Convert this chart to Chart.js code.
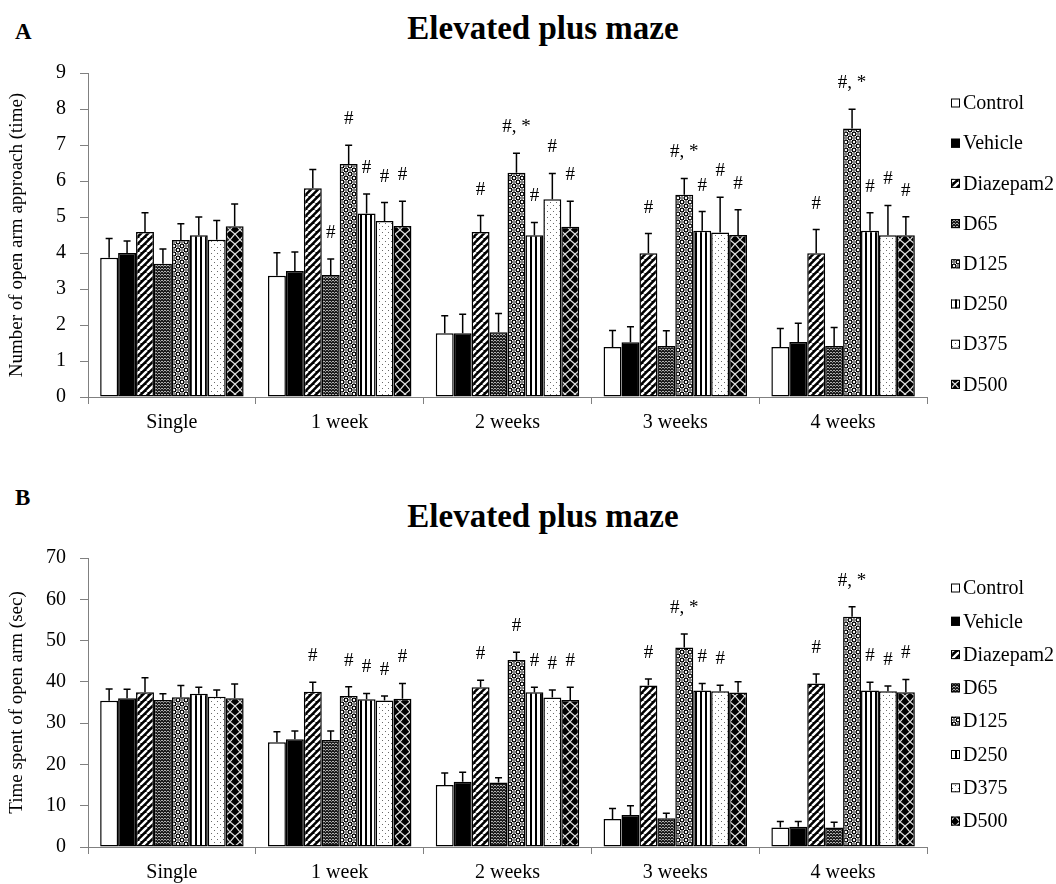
<!DOCTYPE html>
<html>
<head>
<meta charset="utf-8">
<script src="https://cdn.jsdelivr.net/npm/chart.js@4.4.0/dist/chart.umd.min.js"></script>
<style>
  body { margin: 0; background: #fff; width: 1056px; height: 884px; position: relative; overflow: hidden; font-family: 'Liberation Serif', 'Times New Roman', serif; }
  .panel { position: absolute; left: 0; width: 1056px; height: 442px; }
  .letter { position: absolute; left: 15px; font-weight: bold; font-size: 23px; line-height: 23px; }
  .title { position: absolute; left: 0; width: 1086px; text-align: center; font-weight: bold; font-size: 33px; line-height: 33px; }
</style>
</head>
<body>
<div class="letter" style="top:20px">A</div>
<div class="title" style="top:12px">Elevated plus maze</div>
<div class="letter" style="top:486px">B</div>
<div class="title" style="top:500px">Elevated plus maze</div>
<div class="panel" style="top:0"><canvas id="chart-approach" width="1056" height="442"></canvas></div>
<div class="panel" style="top:442px"><canvas id="chart-time" width="1056" height="442"></canvas></div>
<script>
const FONT = 'Liberation Serif';

const categories = ['Single', '1 week', '2 weeks', '3 weeks', '4 weeks'];
const groups = ['Control', 'Vehicle', 'Diazepam2', 'D65', 'D125', 'D250', 'D375', 'D500'];

// panel A: number of open arm approach (mean, SEM, marks)
const approachControl = [3.87, 3.37, 1.77, 1.39, 1.39];
const approachVehicle = [4.0, 3.5, 1.77, 1.52, 1.53];
const approachDiazepam = [4.58, 5.8, 4.58, 3.99, 3.99];
const approachD65 = [3.7, 3.39, 1.8, 1.42, 1.42];
const approachD125 = [4.36, 6.47, 6.23, 5.62, 7.46];
const approachD250 = [4.49, 5.1, 4.49, 4.62, 4.62];
const approachD375 = [4.37, 4.89, 5.49, 4.57, 4.49];
const approachD500 = [4.74, 4.75, 4.73, 4.5, 4.49];

const approachSemControl = [0.53, 0.64, 0.49, 0.46, 0.51];
const approachSemVehicle = [0.33, 0.53, 0.53, 0.43, 0.52];
const approachSemDiazepam = [0.54, 0.52, 0.46, 0.55, 0.66];
const approachSemD65 = [0.41, 0.44, 0.52, 0.42, 0.51];
const approachSemD125 = [0.45, 0.52, 0.54, 0.45, 0.53];
const approachSemD250 = [0.51, 0.54, 0.36, 0.53, 0.5];
const approachSemD375 = [0.53, 0.51, 0.72, 0.98, 0.83];
const approachSemD500 = [0.62, 0.69, 0.71, 0.7, 0.52];

const approachMarks = [
    ['', '', '', '', ''],
    ['', '', '', '', ''],
    ['', '', '#', '#', '#'],
    ['', '#', '', '', ''],
    ['', '#', '#, *', '#, *', '#, *'],
    ['', '#', '#', '#', '#'],
    ['', '#', '#', '#', '#'],
    ['', '#', '#', '#', '#']
];

// panel B: time spent of open arm (mean, SEM, marks)
const timeControl = [35.4, 25.4, 15.0, 6.8, 4.7];
const timeVehicle = [36.0, 26.1, 15.8, 7.75, 4.9];
const timeDiazepam = [37.5, 37.6, 38.7, 39.1, 39.6];
const timeD65 = [35.6, 25.9, 15.6, 6.95, 4.7];
const timeD125 = [36.3, 36.6, 45.3, 48.3, 55.8];
const timeD250 = [37.1, 35.8, 37.5, 37.9, 37.9];
const timeD375 = [36.4, 35.5, 36.2, 37.7, 37.7];
const timeD500 = [36.0, 35.9, 35.6, 37.4, 37.5];

const timeSemControl = [2.9, 2.5, 2.9, 2.5, 1.5];
const timeSemVehicle = [2.2, 2.0, 2.3, 2.25, 1.3];
const timeSemDiazepam = [3.5, 2.3, 1.7, 1.6, 2.3];
const timeSemD65 = [1.5, 2.2, 1.2, 1.25, 1.3];
const timeSemD125 = [2.8, 2.2, 1.9, 3.3, 2.4];
const timeSemD250 = [1.6, 1.4, 1.2, 1.7, 2.0];
const timeSemD375 = [1.6, 1.1, 1.8, 1.5, 1.3];
const timeSemD500 = [3.5, 3.7, 3.1, 2.6, 3.1];

const timeMarks = [
    ['', '', '', '', ''],
    ['', '', '', '', ''],
    ['', '#', '#', '#', '#'],
    ['', '', '', '', ''],
    ['', '#', '#', '#, *', '#, *'],
    ['', '#', '#', '#', '#'],
    ['', '#', '#', '#', '#'],
    ['', '#', '#', '', '#']
];

const approachTicks = [0, 1, 2, 3, 4, 5, 6, 7, 8, 9];
const timeTicks = [0, 10, 20, 30, 40, 50, 60, 70];

function makePattern(ctx, size, draw) {
    const tile = document.createElement('canvas');
    tile.width = size;
    tile.height = size;
    const g = tile.getContext('2d');
    draw(g, size);
    return ctx.createPattern(tile, 'repeat');
}

function groupFills(ctx) {
    return [
        '#ffffff',
        '#000000',
        makePattern(ctx, 7, (g, s) => {
            g.fillStyle = '#000';
            g.fillRect(0, 0, s, s);
            g.strokeStyle = '#fff';
            g.lineWidth = 2.4;
            g.beginPath();
            for (let k = -s; k <= s; k += s) {
                g.moveTo(k, s);
                g.lineTo(k + s, 0);
            }
            g.stroke();
        }),
        makePattern(ctx, 6, (g, s) => {
            g.fillStyle = '#1c1c1c';
            g.fillRect(0, 0, s, s);
            g.strokeStyle = '#b0b0b0';
            g.lineWidth = 1;
            g.beginPath();
            g.moveTo(0, 1); g.lineTo(1.5, 2.5); g.lineTo(3, 1); g.lineTo(4.5, 2.5); g.lineTo(6, 1);
            g.moveTo(0, 4); g.lineTo(1.5, 5.5); g.lineTo(3, 4); g.lineTo(4.5, 5.5); g.lineTo(6, 4);
            g.stroke();
        }),
        makePattern(ctx, 8, (g, s) => {
            g.fillStyle = '#fff';
            g.fillRect(0, 0, s, s);
            g.fillStyle = '#000';
            g.fillRect(0, 0, 4, 4);
            g.fillRect(4, 4, 4, 4);
            g.fillStyle = '#fff';
            g.beginPath(); g.arc(2, 2, 1.2, 0, Math.PI * 2); g.fill();
            g.beginPath(); g.arc(6, 6, 1.2, 0, Math.PI * 2); g.fill();
            g.strokeStyle = '#000';
            g.lineWidth = 0.8;
            g.beginPath(); g.arc(6, 2, 1.3, 0, Math.PI * 2); g.stroke();
            g.beginPath(); g.arc(2, 6, 1.3, 0, Math.PI * 2); g.stroke();
        }),
        makePattern(ctx, 5, (g, s) => {
            g.fillStyle = '#fff';
            g.fillRect(0, 0, s, s);
            g.fillStyle = '#000';
            g.fillRect(0, 0, 2, s);
        }),
        makePattern(ctx, 6, (g, s) => {
            g.fillStyle = '#fff';
            g.fillRect(0, 0, s, s);
            g.fillStyle = '#6a6a6a';
            g.fillRect(1, 1, 1, 1);
            g.fillRect(4, 4, 1, 1);
        }),
        makePattern(ctx, 10, (g, s) => {
            g.fillStyle = '#000';
            g.fillRect(0, 0, s, s);
            g.strokeStyle = '#e0e0e0';
            g.lineWidth = 1.2;
            g.beginPath();
            g.moveTo(0, 0); g.quadraticCurveTo(6, 4, s, s);
            g.moveTo(s, 0); g.quadraticCurveTo(4, 4, 0, s);
            g.stroke();
        })
    ];
}

const errorBarPlugin = {
    id: 'errorBars',
    afterDatasetsDraw(chart) {
        const ctx = chart.ctx;
        const yScale = chart.scales.y;
        ctx.save();
        ctx.strokeStyle = '#000';
        ctx.lineWidth = 1.5;
        ctx.fillStyle = '#000';
        ctx.font = '19px ' + FONT;
        ctx.textAlign = 'center';
        ctx.textBaseline = 'middle';
        chart.data.datasets.forEach((ds, i) => {
            const meta = chart.getDatasetMeta(i);
            meta.data.forEach((bar, j) => {
                const top = yScale.getPixelForValue(ds.data[j] + ds.errors[j]);
                ctx.beginPath();
                ctx.moveTo(bar.x, bar.y);
                ctx.lineTo(bar.x, top);
                ctx.moveTo(bar.x - 3.5, top);
                ctx.lineTo(bar.x + 3.5, top);
                ctx.stroke();
                if (ds.marks[j]) {
                    ctx.fillText(ds.marks[j], bar.x, top - 26);
                }
            });
        });
        ctx.restore();
    }
};

const sideLegendPlugin = {
    id: 'sideLegend',
    afterDraw(chart, args, opts) {
        const ctx = chart.ctx;
        ctx.save();
        ctx.font = '20px ' + FONT;
        ctx.textBaseline = 'middle';
        ctx.textAlign = 'left';
        chart.data.datasets.forEach((ds, i) => {
            const y = opts.top + i * opts.step;
            ctx.fillStyle = ds.backgroundColor;
            ctx.fillRect(opts.left, y - 4.5, 9, 9);
            ctx.strokeStyle = '#000';
            ctx.lineWidth = 1;
            ctx.strokeRect(opts.left + 0.5, y - 4, 8, 8);
            ctx.fillStyle = '#000';
            ctx.fillText(ds.label, opts.left + 12, y + 1);
        });
        ctx.restore();
    }
};

function chart(canvasId, series, sems, marks, ticks, axisTitle, layout) {
    const ctx = document.getElementById(canvasId);
    const fills = groupFills(ctx.getContext('2d'));
    const datasets = groups.map((name, i) => ({
        label: name,
        data: series[i],
        errors: sems[i],
        marks: marks[i],
        backgroundColor: fills[i],
        borderColor: '#000',
        borderWidth: 1.5,
        borderSkipped: false,
        categoryPercentage: 0.855,
        barPercentage: 1.0
    }));

    new Chart(ctx, {
        type: 'bar',
        data: {
            labels: categories,
            datasets: datasets
        },
        options: {
            responsive: false,
            animation: false,
            layout: {
                padding: { top: layout.top, right: 129, left: 0, bottom: 0 }
            },
            plugins: {
                legend: { display: false },
                tooltip: { enabled: false },
                sideLegend: { left: 951, top: layout.legendTop, step: layout.legendStep }
            },
            scales: {
                x: {
                    grid: { drawOnChartArea: false, tickLength: 7, color: '#808080', offset: true },
                    border: { color: '#808080', width: 1 },
                    ticks: { color: '#000', padding: 7, font: { family: FONT, size: 20 } },
                    afterFit(scale) { scale.height = layout.bottom; }
                },
                y: {
                    min: ticks[0],
                    max: ticks[ticks.length - 1],
                    afterBuildTicks(scale) { scale.ticks = ticks.map(v => ({ value: v })); },
                    grid: { drawOnChartArea: false, tickLength: 8, color: '#808080' },
                    border: { color: '#808080', width: 1 },
                    ticks: { color: '#000', padding: 14, font: { family: FONT, size: 20 } },
                    title: {
                        display: true,
                        text: axisTitle,
                        color: '#000',
                        padding: { top: 6, bottom: 0 },
                        font: { family: FONT, size: 19 }
                    },
                    afterFit(scale) { scale.width = 88; }
                }
            }
        },
        plugins: [errorBarPlugin, sideLegendPlugin]
    });
}

chart('chart-approach',
    [approachControl, approachVehicle, approachDiazepam, approachD65, approachD125, approachD250, approachD375, approachD500],
    [approachSemControl, approachSemVehicle, approachSemDiazepam, approachSemD65, approachSemD125, approachSemD250, approachSemD375, approachSemD500],
    approachMarks, approachTicks, 'Number of open arm approach (time)',
    { top: 73, bottom: 45, legendTop: 103, legendStep: 40.2 });

chart('chart-time',
    [timeControl, timeVehicle, timeDiazepam, timeD65, timeD125, timeD250, timeD375, timeD500],
    [timeSemControl, timeSemVehicle, timeSemDiazepam, timeSemD65, timeSemD125, timeSemD250, timeSemD375, timeSemD500],
    timeMarks, timeTicks, 'Time spent of open arm (sec)',
    { top: 116, bottom: 37, legendTop: 146, legendStep: 33.3 });
</script>
</body>
</html>
